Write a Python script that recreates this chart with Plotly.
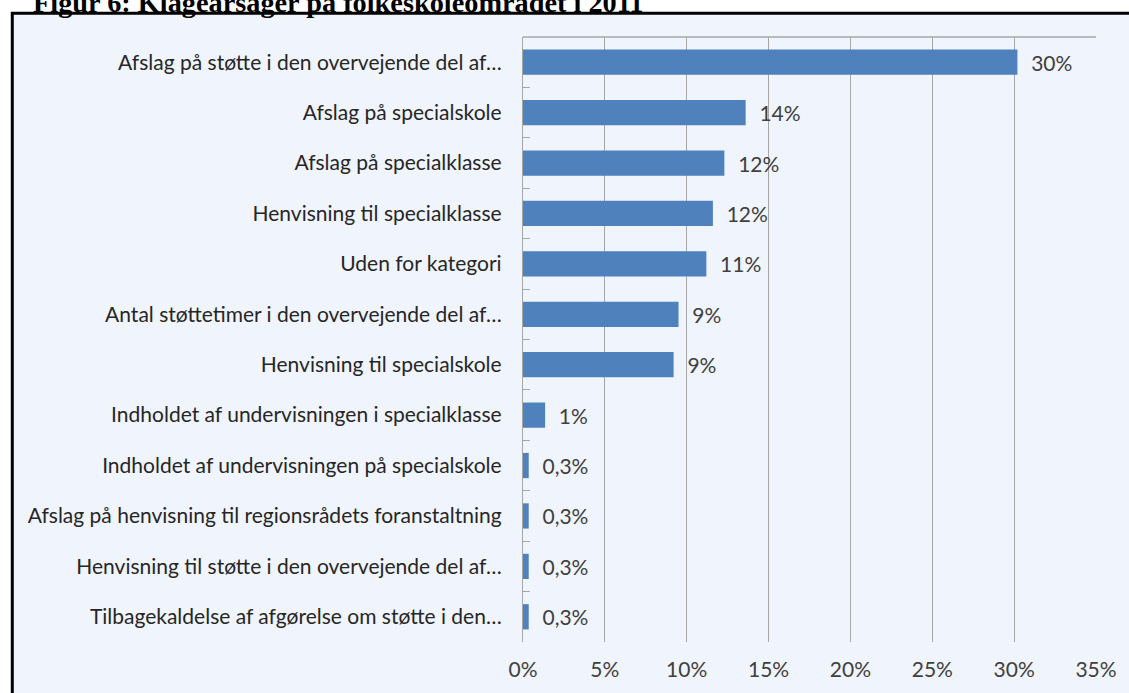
import plotly.graph_objects as go

categories = [
    "Afslag på støtte i den overvejende del af…",
    "Afslag på specialskole",
    "Afslag på specialklasse",
    "Henvisning til specialklasse",
    "Uden for kategori",
    "Antal støttetimer i den overvejende del af…",
    "Henvisning til specialskole",
    "Indholdet af undervisningen i specialklasse",
    "Indholdet af undervisningen på specialskole",
    "Afslag på henvisning til regionsrådets foranstaltning",
    "Henvisning til støtte i den overvejende del af…",
    "Tilbagekaldelse af afgørelse om støtte i den…",
]
values = [30.2, 13.6, 12.3, 11.6, 11.2, 9.5, 9.2, 1.35, 0.35, 0.35, 0.35, 0.35]
value_labels = ["30%", "14%", "12%", "12%", "11%", "9%", "9%", "1%", "0,3%", "0,3%", "0,3%", "0,3%"]
x_ticks = [0, 5, 10, 15, 20, 25, 30, 35]
x_tick_labels = ["0%", "5%", "10%", "15%", "20%", "25%", "30%", "35%"]
title_text = "Figur 6: Klagearsager på folkeskoleområdet i 2011"

W, H = 1129, 693
L, R, T, B = 523, 31, 37, 51
pw, ph = W - L - R, H - T - B


def px_x(px):
    return (px - L) / pw


def px_y(py):
    return (H - B - py) / ph


FONT = "Lato"
FS = 21
BAR = "#4f81bd"
GRID = "#a6a6a6"
BG = "#f0f4fc"

fig = go.Figure()
fig.add_trace(go.Bar(
    x=values,
    y=categories,
    orientation="h",
    marker=dict(color=BAR, line=dict(width=0)),
    width=0.5,
    text=["\u00a0\u00a0" + t for t in value_labels],
    textposition="outside",
    constraintext="none",
    cliponaxis=False,
    textfont=dict(family=FONT, size=FS, color="#404040"),
    hoverinfo="skip",
))

# outer frame
fig.add_shape(type="rect", xref="paper", yref="paper",
              x0=px_x(10.5), x1=px_x(1160), y0=px_y(720), y1=px_y(13.3),
              fillcolor=BG, line=dict(color="black", width=3), layer="below")
# top border of plot area
fig.add_shape(type="line", xref="paper", yref="paper",
              x0=0, x1=1, y0=1, y1=1, line=dict(color=GRID, width=1.3))

fig.add_annotation(text="<b>" + title_text + "</b>", xref="paper", yref="paper",
                   x=px_x(29), y=px_y(20), xanchor="left", yanchor="bottom",
                   showarrow=False,
                   font=dict(family="Liberation Serif", size=28.3, color="black"))

fig.update_layout(
    width=W, height=H,
    margin=dict(l=L, r=R, t=T, b=B, pad=0),
    paper_bgcolor="white",
    plot_bgcolor="rgba(0,0,0,0)",
    showlegend=False,
    bargap=0.5,
    xaxis=dict(
        range=[0, 35],
        tickvals=x_ticks,
        ticktext=x_tick_labels,
        showgrid=True, gridcolor=GRID, gridwidth=1.3,
        zeroline=False, showline=False, ticks="",
        ticklabelstandoff=13,
        tickfont=dict(family=FONT, size=FS, color="#404040"),
    ),
    yaxis=dict(
        autorange="reversed",
        showgrid=False, zeroline=False,
        showline=True, linecolor=GRID, linewidth=1.3,
        ticks="inside", ticklen=7, tickcolor=GRID, tickwidth=1.3,
        tickson="boundaries",
        ticklabelstandoff=16,
        tickfont=dict(family=FONT, size=FS, color="#262626"),
    ),
)

fig.write_html("out.html",
               config={"displayModeBar": False},
               post_script="document.body.style.margin='0';document.body.style.overflow='hidden';")
